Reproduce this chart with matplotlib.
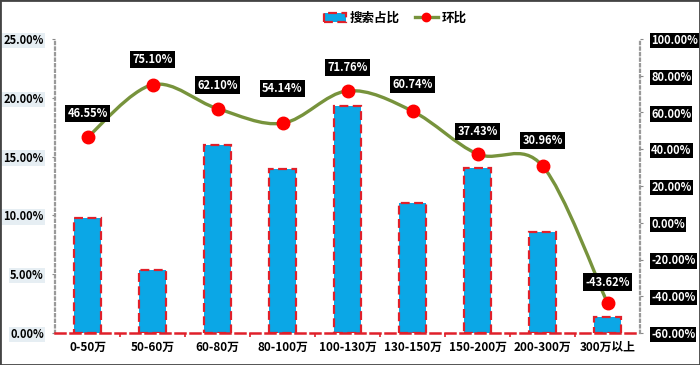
import numpy as np
import matplotlib
matplotlib.use("Agg")
from matplotlib import pyplot as plt
from matplotlib.path import Path
from matplotlib.patches import PathPatch, Rectangle
from matplotlib.lines import Line2D
from matplotlib.ticker import FuncFormatter

plt.rcParams['font.family'] = ['Noto Sans CJK SC', 'DejaVu Sans']

# 数据
categories = ['0-50万', '50-60万', '60-80万', '80-100万', '100-130万',
              '130-150万', '150-200万', '200-300万', '300万以上']
search_share = [9.78, 5.36, 16.0, 13.95, 19.3, 11.08, 14.0, 8.6, 1.39]
hb = [46.55, 75.10, 62.10, 54.14, 71.76, 60.74, 37.43, 30.96, -43.62]
left_ticks = [0, 5, 10, 15, 20, 25]
right_ticks = [-60, -40, -20, 0, 20, 40, 60, 80, 100]

bar_color = '#0BA7E6'
edge_red = '#E0202A'
line_color = '#77933C'

fig = plt.figure(figsize=(7, 3.65), dpi=100)
ax = fig.add_axes([55/700, 1-333/365, 585/700, 294/365])
ax2 = ax.twinx()

x = np.arange(len(categories))
ax.bar(x, search_share, width=0.42, color=bar_color, edgecolor=edge_red,
       linewidth=1.6, linestyle=(0, (4, 2)), zorder=2)
ax.set_xlim(-0.5, len(categories) - 0.5)
ax.set_ylim(0, 25)
ax.set_yticks(left_ticks)
ax.yaxis.set_major_formatter(FuncFormatter(lambda v, p: f'{v:.2f}%'))
ax.set_xticks(x)
ax.set_xticklabels(categories, fontsize=8.5, fontweight='bold')
ax.set_xticks(x[:-1] + 0.5, minor=True)
ax.tick_params(axis='x', which='major', length=0, pad=6)
ax.tick_params(axis='x', which='minor', length=3, color=edge_red, width=1.2)
ax.tick_params(axis='y', length=2, color='#888888', pad=6, labelsize=8)
for t in ax.get_yticklabels():
    t.set_fontweight('bold')
    t.set_bbox(dict(facecolor='#E6EEF3', edgecolor='none', pad=0.8))

for s in ['top', 'right']:
    ax.spines[s].set_visible(False)
ax.spines['left'].set_color('#999999')
ax.spines['left'].set_linestyle((0, (1, 1.5)))
ax.spines['left'].set_linewidth(1.6)
ax.spines['bottom'].set_color(edge_red)
ax.spines['bottom'].set_linestyle((0, (4, 2)))
ax.spines['bottom'].set_linewidth(1.8)
ax.spines['bottom'].set_zorder(3)

# 环比 平滑曲线
ax2.set_ylim(-60, 100)
ax2.set_yticks(right_ticks)
ax2.yaxis.set_major_formatter(FuncFormatter(lambda v, p: f'{v:.2f}%'))
ax2.tick_params(axis='y', length=2, color='#888888', pad=6, labelsize=8)
for t in ax2.get_yticklabels():
    t.set_fontweight('bold')
    t.set_color('white')
    t.set_bbox(dict(facecolor='black', edgecolor='none', pad=0.8))
for s in ['top', 'left', 'bottom']:
    ax2.spines[s].set_visible(False)
ax2.spines['right'].set_color('#999999')
ax2.spines['right'].set_linestyle((0, (1, 1.5)))
ax2.spines['right'].set_linewidth(1.6)

pts = np.column_stack([x, hb]).astype(float)
verts = [pts[0]]
codes = [Path.MOVETO]
n = len(pts)
for i in range(n - 1):
    p0 = pts[i - 1] if i > 0 else pts[i]
    p3 = pts[i + 2] if i + 2 < n else pts[i + 1]
    c1 = pts[i] + (pts[i + 1] - p0) / 6
    c2 = pts[i + 1] - (p3 - pts[i]) / 6
    verts += [c1, c2, pts[i + 1]]
    codes += [Path.CURVE4] * 3
ax2.add_patch(PathPatch(Path(verts, codes), facecolor='none',
                        edgecolor=line_color, linewidth=2.4, zorder=3))
ax2.plot(x, hb, 'o', color='#FF0000', markersize=9, zorder=4)

offsets = [17, 18, 17, 25, 17, 19, 16, 18, 15]
for xi, v, off in zip(x, hb, offsets):
    ax2.annotate(f'{v:.2f}%', (xi, v), xytext=(0, off), textcoords='offset points',
                 ha='center', va='center', color='white', fontsize=8,
                 fontweight='bold', zorder=5,
                 bbox=dict(facecolor='black', edgecolor='none', pad=1.5))

# 图例
handles = [Rectangle((0, 0), 1, 1, facecolor=bar_color, edgecolor=edge_red,
                     linewidth=1.6, linestyle=(0, (4, 2))),
           Line2D([], [], color=line_color, linewidth=2.4, marker='o',
                  markerfacecolor='#FF0000', markeredgecolor='#FF0000', markersize=6)]
fig.legend(handles, ['搜索占比', '环比'], loc='center', bbox_to_anchor=(395/700, 1-18/365),
           ncol=2, frameon=False, prop={'weight': 'bold', 'size': 9},
           handlelength=1.8, handletextpad=0.3, columnspacing=1.2)

fig.patches.append(Rectangle((0, 0), 1, 1, transform=fig.transFigure, fill=False,
                             edgecolor='#444444', linewidth=2))

fig.savefig('out.png', dpi=100)
